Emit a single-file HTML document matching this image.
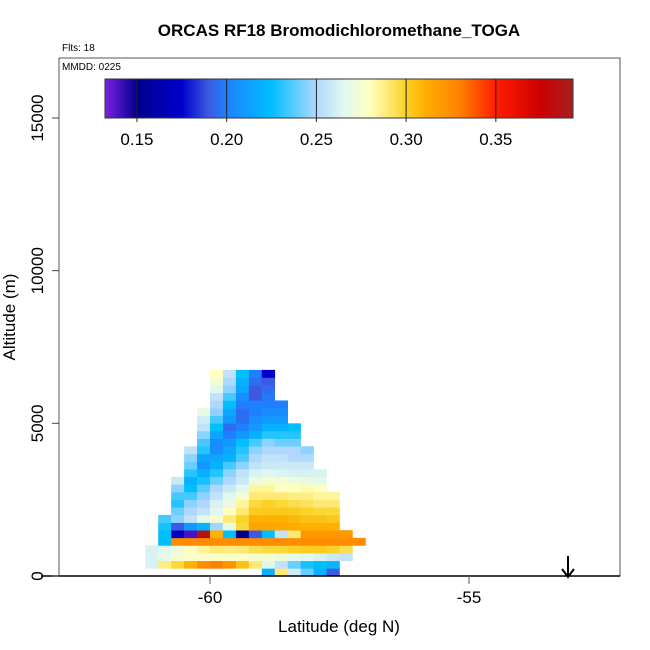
<!DOCTYPE html>
<html><head><meta charset="utf-8"><style>
body{margin:0;background:#fff}
svg{display:block;font-family:"Liberation Sans",sans-serif}
</style></head><body>
<svg id="chart" width="650" height="650" xmlns="http://www.w3.org/2000/svg">
<text x="339" y="36" text-anchor="middle" font-size="17" font-weight="bold">ORCAS RF18 Bromodichloromethane_TOGA</text>
<text x="62" y="51" font-size="10">Flts: 18</text>
<g id="cells"></g>
<rect x="59" y="58" width="561" height="518" fill="none" stroke="#555" stroke-width="1"/>
<text x="62" y="70" font-size="10">MMDD: 0225</text>
<g id="cbar"></g>
<g id="axes"></g>
<text x="339" y="632" text-anchor="middle" font-size="17">Latitude (deg N)</text>
<text transform="translate(15,317) rotate(-90)" text-anchor="middle" font-size="17">Altitude (m)</text>
<g><line x1="568" y1="556" x2="568" y2="577" stroke="#000" stroke-width="2"/><path d="M562 569 L568 577 L574 569" fill="none" stroke="#000" stroke-width="2"/></g>
</svg>
<script>
const latStart = -61.25, latStep = 0.25, altStep = 250;
const xTicks = [-60, -55];
const yTicks = [0, 5000, 10000, 15000];
const cbTicks = [0.15, 0.20, 0.25, 0.30, 0.35];
// rows from altitude bin 0 (0-250 m) upward; each row: [startColumn, values...]
const gridRows = [
 [9, 0.22,0.29,0.26,0.24,0.22,0.19],
 [0, 0.262,0.288,0.298,0.31,0.325,0.33,0.322,0.305,0.29,0.265,0.255,0.24,0.228,0.225,0.222],
 [0, 0.262,0.268,0.275,0.278,0.278,0.278,0.278,0.278,0.275,0.275,0.272,0.268,0.265,0.262,0.258,0.255],
 [0, 0.262,0.265,0.27,0.28,0.285,0.29,0.288,0.29,0.295,0.297,0.298,0.3,0.302,0.302,0.3,0.295],
 [1, 0.225,0.325,0.325,0.325,0.325,0.325,0.325,0.325,0.325,0.325,0.325,0.325,0.325,0.325,0.325,0.325],
 [1, 0.225,0.17,0.14,0.385,0.31,0.225,0.15,0.19,0.225,0.255,0.29,0.32,0.32,0.32,0.32],
 [1, 0.228,0.19,0.21,0.22,0.248,0.268,0.298,0.315,0.315,0.313,0.312,0.31,0.31,0.31],
 [1, 0.235,0.245,0.255,0.268,0.275,0.29,0.3,0.31,0.31,0.31,0.308,0.305,0.305,0.303],
 [2, 0.24,0.25,0.255,0.265,0.28,0.29,0.302,0.303,0.303,0.302,0.3,0.298,0.298],
 [2, 0.23,0.245,0.25,0.262,0.27,0.285,0.297,0.3,0.298,0.295,0.293,0.29,0.29],
 [2, 0.235,0.235,0.245,0.255,0.265,0.275,0.29,0.29,0.29,0.288,0.288,0.285,0.285],
 [2, 0.245,0.225,0.238,0.25,0.258,0.265,0.285,0.285,0.28,0.28,0.282,0.28],
 [2, 0.258,0.22,0.228,0.24,0.25,0.258,0.272,0.275,0.275,0.272,0.27,0.268],
 [3, 0.23,0.22,0.23,0.245,0.255,0.262,0.265,0.263,0.262,0.262,0.262],
 [3, 0.24,0.21,0.22,0.235,0.245,0.255,0.258,0.258,0.258,0.258],
 [3, 0.245,0.215,0.215,0.22,0.235,0.25,0.255,0.255,0.25,0.25],
 [3, 0.255,0.23,0.205,0.215,0.23,0.245,0.25,0.25,0.25,0.245],
 [4, 0.235,0.205,0.21,0.225,0.235,0.245,0.24,0.24],
 [4, 0.245,0.215,0.2,0.21,0.22,0.23,0.23,0.23],
 [4, 0.255,0.225,0.195,0.2,0.21,0.22,0.22,0.225],
 [4, 0.26,0.235,0.21,0.195,0.205,0.21,0.21],
 [4, 0.27,0.245,0.215,0.195,0.2,0.205,0.205],
 [5, 0.25,0.225,0.2,0.2,0.2,0.2],
 [5, 0.255,0.235,0.205,0.19,0.198],
 [5, 0.265,0.245,0.215,0.19,0.195],
 [5, 0.275,0.25,0.22,0.195,0.19],
 [5, 0.28,0.255,0.225,0.20,0.175]
];
const PL=59, PR=620, PT=58, PB=576;
function xS(lat){ return 210 + (lat + 60) * 51.8; }
function yS(alt){ return 576 - alt * 0.030533; }
const stops=[[0.132,[128,32,232]],[0.15,[0,0,140]],[0.175,[0,0,205]],[0.19,[60,90,225]],[0.20,[30,128,255]],[0.225,[0,191,255]],[0.25,[176,216,255]],[0.265,[224,248,240]],[0.28,[255,255,192]],[0.30,[250,210,40]],[0.31,[255,176,0]],[0.33,[255,128,0]],[0.35,[255,30,0]],[0.375,[204,0,0]],[0.393,[165,32,32]]];
function col(v){
  if(v<=stops[0][0]) return 'rgb('+stops[0][1]+')';
  for(let i=1;i<stops.length;i++){ if(v<=stops[i][0]){ const a=stops[i-1],b=stops[i],t=(v-a[0])/(b[0]-a[0]);
    return 'rgb('+a[1].map((c,k)=>Math.round(c+(b[1][k]-c)*t)).join(',')+')'; } }
  return 'rgb('+stops[stops.length-1][1]+')';
}
const NS='http://www.w3.org/2000/svg';
function mk(tag, attrs, parent){ const e=document.createElementNS(NS,tag); for(const k in attrs) e.setAttribute(k,attrs[k]); parent.appendChild(e); return e; }
const cells=document.getElementById('cells');
gridRows.forEach((row,r)=>{
  const start=row[0];
  row.slice(1).forEach((v,i)=>{
    const lat=latStart+(start+i)*latStep, alt=r*altStep;
    const x0=xS(lat), x1=xS(lat+latStep), y0=yS(alt+altStep), y1=yS(alt);
    const e=mk('rect',{x:x0.toFixed(2),y:y0.toFixed(2),width:(x1-x0+0.3).toFixed(2),height:(y1-y0+0.3).toFixed(2),fill:col(v)},cells);
    
    
  });
});
// colorbar
const cb=document.getElementById('cbar');
const CBL=105, CBR=573, CBT=79, CBB=118, cbMin=0.1322, cbMax=0.393;
function cbX(v){ return CBL+(v-cbMin)/(cbMax-cbMin)*(CBR-CBL); }
for(let px=CBL; px<CBR; px++){
  const v=cbMin+(px+0.5-CBL)/(CBR-CBL)*(cbMax-cbMin);
  mk('rect',{x:px,y:CBT,width:1.2,height:CBB-CBT,fill:col(v)},cb);
}
mk('rect',{x:CBL,y:CBT,width:CBR-CBL,height:CBB-CBT,fill:'none',stroke:'#333','stroke-width':1},cb);
cbTicks.forEach(v=>{
  const x=cbX(v);
  const l=mk('line',{x1:x,x2:x,y1:CBT,y2:CBB+4,stroke:'#222','stroke-width':1},cb);
  
  
  const t=mk('text',{x:x,y:145,'text-anchor':'middle','font-size':17},cb);
  t.textContent=v.toFixed(2);
  
  
});
// axes
const ax=document.getElementById('axes');
mk('line',{x1:41,x2:PR,y1:PB,y2:PB,stroke:'#000','stroke-width':1.5},ax);
xTicks.forEach(v=>{
  const x=xS(v);
  mk('line',{x1:x,x2:x,y1:PB,y2:PB+8,stroke:'#555','stroke-width':1},ax);
  const t=mk('text',{x:x,y:603,'text-anchor':'middle','font-size':17},ax);
  t.textContent=String(v);
  
  
});
yTicks.forEach(v=>{
  const y=yS(v);
  mk('line',{x1:PL-7,x2:PL,y1:y,y2:y,stroke:'#444','stroke-width':1},ax);
  const t=mk('text',{transform:'translate(43,'+y+') rotate(-90)','text-anchor':'middle','font-size':17},ax);
  t.textContent=String(v);
  
  
});
</script>
</body></html>
